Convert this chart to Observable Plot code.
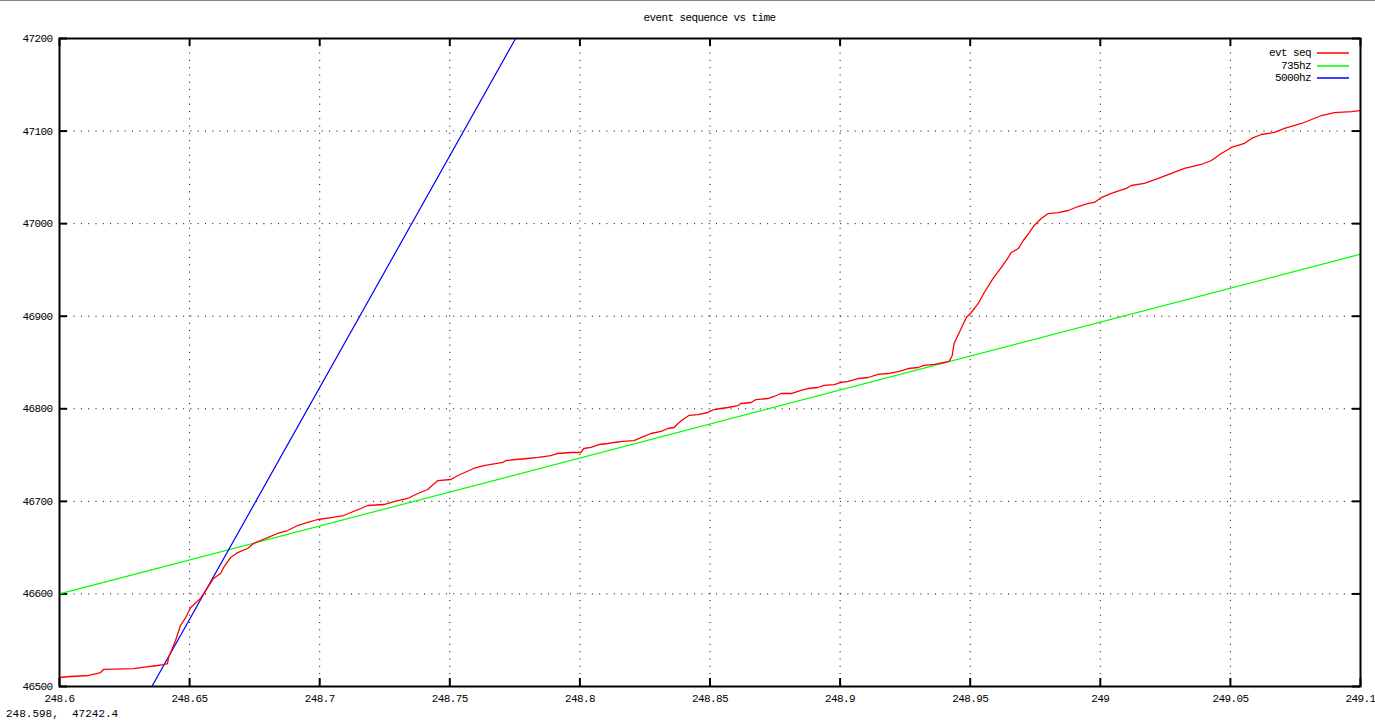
<!DOCTYPE html>
<html>
<head>
<meta charset="utf-8">
<script src="https://cdn.jsdelivr.net/npm/d3@7"></script>
<script src="https://cdn.jsdelivr.net/npm/@observablehq/plot@0.6"></script>
<style>
  html, body { margin: 0; padding: 0; background: #fff; overflow: hidden; }
  #wrap { position: relative; width: 1375px; height: 722px; font-family: "Liberation Mono", "DejaVu Sans Mono", monospace; color: #000; }
  #topline { position: absolute; left: 0; top: 0; width: 1375px; height: 1px; background: #888; }
  #title { position: absolute; left: 59px; width: 1301px; top: 12px; text-align: center; font-size: 11px; letter-spacing: -0.6px; }
  #legend { position: absolute; right: 25px; top: 47px; font-size: 11px; letter-spacing: -0.6px; }
  #legend .row { display: flex; align-items: center; justify-content: flex-end; height: 12.5px; }
  #legend svg { display: block; margin-left: 6px; }
  #status { position: absolute; left: 6px; top: 708px; font-size: 11px; line-height: 13px; white-space: pre; }
</style>
</head>
<body>
<div id="wrap">
  <div id="chart"></div>
  <div id="topline"></div>
  <div id="title"></div>
  <div id="legend"></div>
  <div id="status"></div>
</div>
<script>
// ---- data ----
const titleText = "event sequence vs time";
const statusText = "248.598,  47242.4";

const xTicks = [248.6, 248.65, 248.7, 248.75, 248.8, 248.85, 248.9, 248.95, 249, 249.05, 249.1];
const xTickLabels = ["248.6", "248.65", "248.7", "248.75", "248.8", "248.85", "248.9", "248.95", "249", "249.05", "249.1"];
const yTicks = [46500, 46600, 46700, 46800, 46900, 47000, 47100, 47200];
const yTickLabels = ["46500", "46600", "46700", "46800", "46900", "47000", "47100", "47200"];

const seriesNames = ["evt seq", "735hz", "5000hz"];

// evt seq (time, sequence)
const evtT = [
  248.6000, 248.6042, 248.6112, 248.6158, 248.6169, 248.6285, 248.6312, 248.6377, 248.6400, 248.6415,
  248.6419, 248.6446, 248.6465, 248.6485, 248.6504, 248.6542, 248.6592, 248.6619, 248.6631, 248.6658,
  248.6685, 248.6723, 248.6746, 248.6773, 248.6800, 248.6838, 248.6877, 248.6915, 248.6954, 248.6992,
  248.7050, 248.7092, 248.7158, 248.7185, 248.7246, 248.7300, 248.7338, 248.7377, 248.7415, 248.7454,
  248.7504, 248.7531, 248.7592, 248.7631, 248.7704, 248.7715, 248.7754, 248.7800, 248.7838, 248.7862,
  248.7888, 248.7915, 248.7965, 248.8004, 248.8015, 248.8042, 248.8073, 248.8108, 248.8131, 248.8165,
  248.8208, 248.8246, 248.8273, 248.8312, 248.8338, 248.8362, 248.8377, 248.8396, 248.8419, 248.8454,
  248.8492, 248.8515, 248.8542, 248.8569, 248.8608, 248.8619, 248.8658, 248.8677, 248.8723, 248.8746,
  248.8773, 248.8812, 248.8850, 248.8877, 248.8915, 248.8938, 248.8977, 248.9004, 248.9031, 248.9069,
  248.9108, 248.9146, 248.9185, 248.9227, 248.9262, 248.9300, 248.9323, 248.9362, 248.9400, 248.9419,
  248.9431, 248.9438, 248.9458, 248.9485, 248.9504, 248.9531, 248.9554, 248.9588, 248.9619, 248.9646,
  248.9658, 248.9685, 248.9704, 248.9727, 248.9746, 248.9773, 248.9800, 248.9838, 248.9877, 248.9915,
  248.9954, 248.9977, 249.0004, 249.0042, 249.0100, 249.0119, 249.0169, 249.0223, 249.0273, 249.0323,
  249.0388, 249.0427, 249.0465, 249.0504, 249.0554, 249.0581, 249.0619, 249.0669, 249.0708, 249.0773,
  249.0812, 249.0850, 249.0900, 249.0965, 249.1000
];
const evtV = [
  46509.7, 46510.8, 46511.9, 46515.1, 46518.4, 46519.4, 46520.5, 46522.7, 46523.7, 46524.8,
  46531.3, 46549.7, 46565.9, 46574.5, 46585.3, 46595.1, 46616.7, 46622.1, 46628.6, 46639.4,
  46644.7, 46649.1, 46654.5, 46657.7, 46660.9, 46665.3, 46668.5, 46673.9, 46677.2, 46680.4,
  46682.6, 46684.7, 46692.3, 46695.5, 46696.6, 46700.9, 46703.1, 46708.5, 46712.8, 46722.5,
  46723.6, 46727.9, 46735.5, 46738.7, 46742.0, 46744.1, 46745.2, 46746.3, 46747.4, 46748.4,
  46749.5, 46751.7, 46752.8, 46752.8, 46757.1, 46758.2, 46761.4, 46762.5, 46763.6, 46764.7,
  46765.7, 46770.1, 46773.3, 46775.5, 46778.7, 46779.8, 46784.1, 46788.4, 46792.8, 46793.8,
  46796.0, 46799.2, 46800.3, 46801.4, 46803.5, 46805.7, 46806.8, 46810.0, 46811.1, 46813.3,
  46816.5, 46816.5, 46819.8, 46821.9, 46823.0, 46825.2, 46826.2, 46828.4, 46829.5, 46832.7,
  46833.8, 46837.1, 46838.1, 46840.3, 46843.5, 46844.6, 46846.8, 46847.9, 46850.0, 46851.1,
  46857.6, 46870.6, 46882.4, 46898.6, 46904.0, 46913.8, 46925.6, 46940.8, 46952.6, 46963.4,
  46968.8, 46973.1, 46981.8, 46990.4, 46998.0, 47005.6, 47010.9, 47012.0, 47014.2, 47018.5,
  47021.8, 47022.9, 47028.2, 47032.6, 47038.0, 47041.2, 47043.4, 47048.8, 47054.2, 47059.6,
  47063.9, 47068.2, 47075.8, 47082.3, 47086.6, 47092.0, 47096.3, 47098.5, 47102.8, 47108.2,
  47112.5, 47116.8, 47120.0, 47121.1, 47122.2
];

// 735hz reference line
const hz735T = [248.6, 249.1];
const hz735V = [46600, 46967];

// 5000hz reference line
const hz5000T = [248.6355, 248.7753];
const hz5000V = [46500, 47200];

// ---- styles ----
const seriesColors = ["#ff0000", "#00ff00", "#0000ff"];

const toRows = (T, V) => T.map((t, i) => ({t, v: V[i]}));
const evt = toRows(evtT, evtV);
const hz735 = toRows(hz735T, hz735V);
const hz5000 = toRows(hz5000T, hz5000V);

const W = 1375, H = 722;
const mL = 59, mR = 15, mT = 38, mB = 36;
const fw = W - mL - mR, fh = H - mT - mB;
const tickLen = 8;

const chart = Plot.plot({
  width: W,
  height: H,
  marginLeft: mL,
  marginRight: mR,
  marginTop: mT,
  marginBottom: mB,
  style: {fontFamily: "'Liberation Mono', 'DejaVu Sans Mono', monospace", fontSize: "11px", letterSpacing: "-0.6px", color: "#000", background: "#fff", overflow: "visible"},
  x: {domain: [248.6, 249.1]},
  y: {domain: [46500, 47200]},
  marks: [
    Plot.ruleX(xTicks.slice(1, -1), {x: d => d, stroke: "#000", strokeWidth: 1, strokeDasharray: "1,6.3"}),
    Plot.ruleY(yTicks.slice(1, -1), {y: d => d, stroke: "#000", strokeWidth: 1, strokeDasharray: "1,6.3"}),
    Plot.tickX(xTicks, {x: d => d, stroke: "#000", strokeWidth: 2, insetTop: fh - tickLen}),
    Plot.tickX(xTicks, {x: d => d, stroke: "#000", strokeWidth: 2, insetBottom: fh - tickLen}),
    Plot.tickY(yTicks, {y: d => d, stroke: "#000", strokeWidth: 2, insetRight: fw - tickLen}),
    Plot.tickY(yTicks, {y: d => d, stroke: "#000", strokeWidth: 2, insetLeft: fw - tickLen}),
    Plot.axisX(xTicks, {anchor: "bottom", label: null, tickSize: 0, tickPadding: 8, tickFormat: d => xTickLabels[xTicks.indexOf(d)]}),
    Plot.axisY(yTicks, {anchor: "left", label: null, tickSize: 0, tickPadding: 7, tickFormat: d => yTickLabels[yTicks.indexOf(d)]}),
    Plot.line(hz735, {x: "t", y: "v", stroke: seriesColors[1], strokeWidth: 1.2, clip: true}),
    Plot.line(hz5000, {x: "t", y: "v", stroke: seriesColors[2], strokeWidth: 1.2, clip: true}),
    Plot.line(evt, {x: "t", y: "v", stroke: seriesColors[0], strokeWidth: 1.3, clip: true}),
    Plot.frame({stroke: "#000", strokeWidth: 2})
  ]
});
document.getElementById("chart").appendChild(chart);

document.getElementById("title").textContent = titleText;
document.getElementById("status").textContent = statusText;
const legend = document.getElementById("legend");
const svgNS = "http://www.w3.org/2000/svg";
seriesNames.forEach((name, i) => {
  const row = document.createElement("div");
  row.className = "row";
  const label = document.createElement("span");
  label.style.whiteSpace = "pre";
  label.textContent = name;
  const sw = document.createElementNS(svgNS, "svg");
  sw.setAttribute("width", "33");
  sw.setAttribute("height", "4");
  const ln = document.createElementNS(svgNS, "line");
  ln.setAttribute("x1", "0");
  ln.setAttribute("x2", "32");
  ln.setAttribute("y1", "2");
  ln.setAttribute("y2", "2");
  ln.setAttribute("stroke", seriesColors[i]);
  ln.setAttribute("stroke-width", "1.5");
  sw.appendChild(ln);
  row.appendChild(label);
  row.appendChild(sw);
  legend.appendChild(row);
});
</script>
</body>
</html>
